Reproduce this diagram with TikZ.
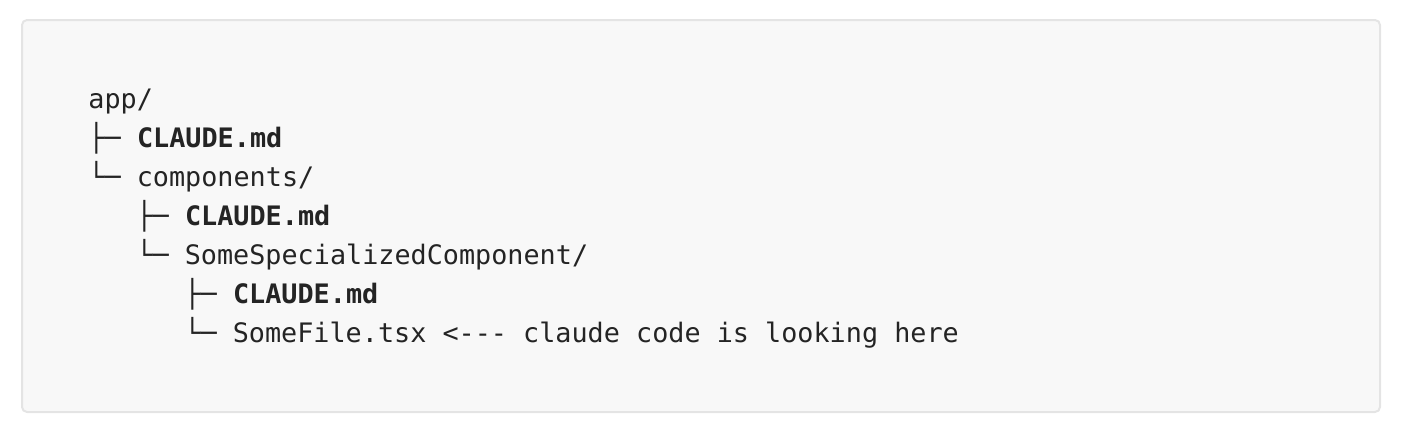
\documentclass[tikz,border=0pt]{standalone}
\usepackage{fontspec}
\setmonofont{DejaVu Sans Mono}
\definecolor{codebg}{HTML}{F8F8F8}
\definecolor{codeframe}{HTML}{E4E4E4}
\definecolor{codetext}{HTML}{242424}
\newcommand{\treefont}{\ttfamily\fontsize{13.4}{16}\selectfont}

\begin{document}
\begin{tikzpicture}[x=0.5pt, y=-0.5pt, font=\treefont,
  codebox/.style={draw=codeframe, fill=codebg, line width=1pt, rounded corners=2.5pt},
  treeline/.style={anchor=base west, inner sep=0pt, text=codetext}]
  \useasboundingbox (0,0) rectangle (1412,434);
  \draw[codebox] (22,20) rectangle (1380,412);
  % one node per printed line, 39px apart
  \node[treeline] (app) at (88,108) {app/};
  \node[treeline] (claudeA) at (88,147) {├─ \textbf{CLAUDE.md}};
  \node[treeline] (comp) at (88,186) {└─ components/};
  \node[treeline] (claudeB) at (136,225) {├─ \textbf{CLAUDE.md}};
  \node[treeline] (special) at (136,264) {└─ SomeSpecializedComponent/};
  \node[treeline] (claudeC) at (184,303) {├─ \textbf{CLAUDE.md}};
  \node[treeline] (somefile) at (184,342) {└─ SomeFile.tsx <--- claude code is looking here};
\end{tikzpicture}
\end{document}
